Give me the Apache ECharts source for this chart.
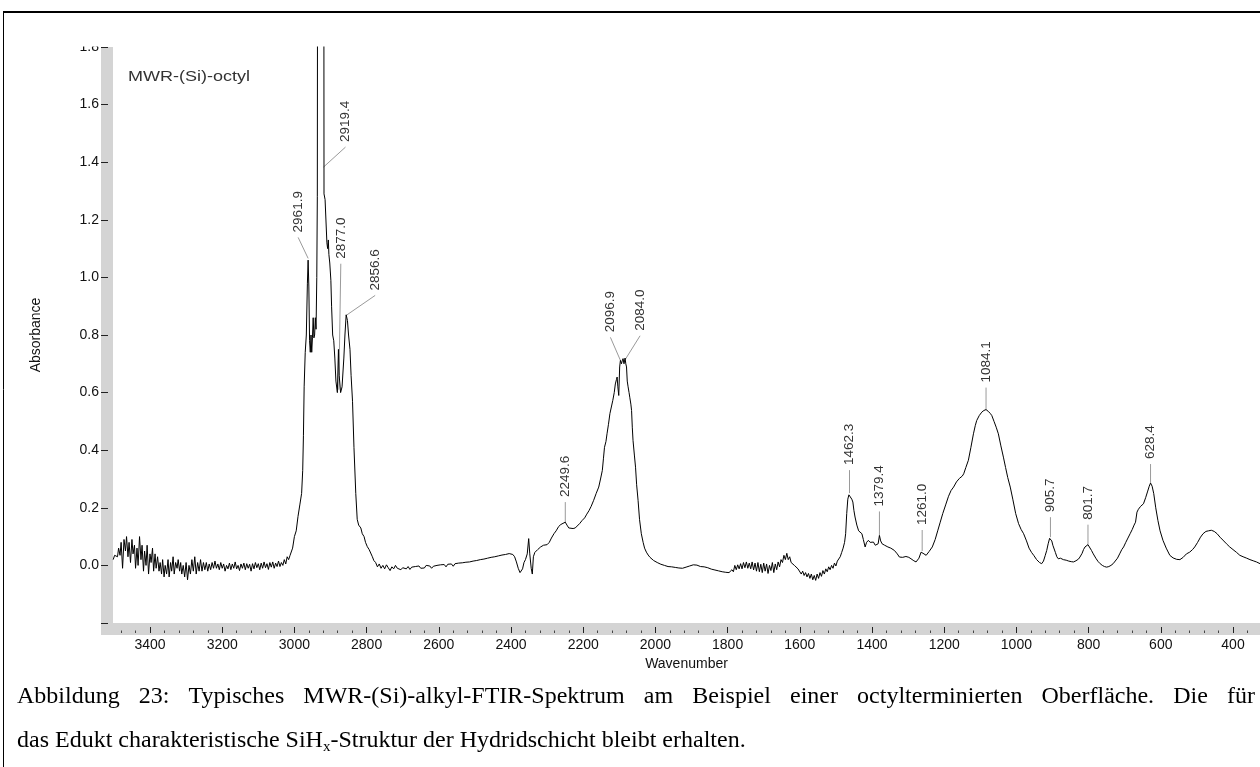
<!DOCTYPE html>
<html>
<head>
<meta charset="utf-8">
<script src="https://cdn.jsdelivr.net/npm/echarts@6/dist/echarts.min.js"></script>
<style>
  html, body { margin: 0; padding: 0; background: #fff; }
  #chart { width: 1260px; height: 767px; }
</style>
</head>
<body>
<div id="chart"></div>
<script>
// FTIR spectrum of an octyl-terminated MWR-(Si) surface: [wavenumber (cm-1), absorbance]
const spectrum = [
  [3502,0.02],[3498,0.035],[3495,0.04],[3490,0.03],[3487,0.06],[3483,0.035],[3480,0.08],[3476,-0.01],
  [3472,0.09],[3468,0.05],[3465,0.10],[3461,0.03],[3458,0.08],[3454,0.01],[3450,0.09],[3447,0.04],
  [3443,0.07],[3440,-0.01],[3436,0.06],[3433,0.00],[3429,0.10],[3425,0.02],[3422,0.07],[3418,-0.02],
  [3415,0.05],[3411,0.00],[3408,0.07],[3404,-0.03],[3400,0.04],[3397,0.01],[3393,0.06],[3390,-0.02],
  [3386,0.04],[3383,-0.01],[3379,0.03],[3375,-0.02],[3372,0.01],[3368,-0.03],[3365,0.02],[3361,-0.04],
  [3358,0.00],[3354,-0.03],[3350,0.02],[3347,-0.04],[3343,0.01],[3340,-0.02],[3336,0.03],[3333,-0.03],
  [3329,0.01],[3325,-0.01],[3322,0.02],[3318,-0.02],[3315,0.01],[3312,-0.03],[3308,0.00],[3304,-0.04],
  [3300,0.01],[3296,-0.05],[3292,0.00],[3288,-0.03],[3284,0.02],[3280,-0.02],[3276,0.03],[3272,-0.03],
  [3268,0.01],[3264,-0.02],[3260,0.02],[3256,-0.02],[3252,0.01],[3248,-0.015],[3244,0.01],[3240,-0.02],
  [3236,0.005],[3232,-0.015],[3228,0.01],[3224,-0.01],[3220,0.015],[3216,-0.01],[3212,0.005],[3208,-0.015],
  [3204,0.01],[3200,-0.01],[3196,0.005],[3192,-0.02],[3188,0.0],[3184,-0.012],[3180,0.008],[3176,-0.015],
  [3172,0.005],[3168,-0.01],[3164,0.012],[3160,-0.012],[3156,0.0],[3152,-0.018],[3148,0.005],[3144,-0.01],
  [3140,0.008],[3136,-0.015],[3132,0.006],[3128,-0.01],[3124,0.004],[3120,-0.02],[3116,0.006],[3112,-0.012],
  [3108,0.01],[3104,-0.008],[3100,0.006],[3096,-0.015],[3092,0.008],[3088,-0.01],[3084,0.012],[3080,-0.008],
  [3076,0.006],[3072,-0.014],[3068,0.01],[3064,-0.006],[3060,0.012],[3056,-0.01],[3052,0.008],[3048,-0.004],
  [3044,0.015],[3040,-0.004],[3036,0.01],[3032,0.0],[3028,0.02],[3024,0.005],[3020,0.03],[3016,0.02],
  [3012,0.035],[3008,0.03],[3005,0.06],[3000,0.10],[2995,0.12],[2990,0.17],[2985,0.21],[2980,0.25],
  [2977,0.33],[2975,0.45],[2973,0.62],[2970,0.74],[2967,0.80],[2964,0.98],[2962,1.06],[2960,0.97],
  [2958,0.78],[2956,0.74],[2954,0.80],[2952,0.74],[2950,0.79],[2948,0.86],[2946,0.79],[2944,0.80],
  [2942,0.86],[2940,0.82],[2938,1.00],[2936.5,1.28],[2936,1.95],[2927,2.5],[2918.3,1.95],[2918,1.29],
  [2915,1.27],[2913,1.27],[2910,1.12],[2908,1.10],[2906,1.13],[2904.5,1.08],[2902,1.05],[2899,0.99],
  [2897,0.90],[2894,0.80],[2891,0.78],[2888,0.72],[2885,0.64],[2881,0.60],[2878,0.75],[2876,0.66],
  [2872,0.60],[2868,0.62],[2863,0.72],[2860,0.80],[2856.6,0.87],[2853,0.85],[2850,0.80],[2846,0.75],
  [2843,0.66],[2839,0.57],[2835,0.41],[2830,0.25],[2826,0.16],[2822,0.14],[2816,0.13],[2812,0.11],
  [2807,0.10],[2803,0.08],[2798,0.065],[2793,0.055],[2789,0.05],[2784,0.03],[2780,0.017],[2775,0.01],
  [2770,-0.005],[2765,0.005],[2760,-0.01],[2755,0.0],[2750,-0.012],[2745,0.002],[2740,-0.008],[2735,-0.018],
  [2730,-0.005],[2725,-0.012],[2720,0.0],[2715,-0.01],[2710,-0.005],[2705,-0.015],[2700,-0.008],[2695,-0.002],
  [2690,-0.012],[2685,-0.004],[2680,-0.014],[2675,-0.006],[2670,-0.012],[2665,-0.004],[2660,-0.01],[2655,-0.002],
  [2650,-0.01],[2645,-0.004],[2640,-0.009],[2635,0.0],[2630,-0.006],[2625,-0.002],[2620,-0.01],[2615,-0.003],
  [2610,-0.008],[2605,0.0],[2600,-0.006],[2595,0.002],[2590,-0.004],[2585,0.003],[2580,-0.005],[2575,0.004],
  [2570,-0.002],[2565,0.005],[2560,-0.003],[2555,0.006],[2550,0.001],[2545,0.008],[2540,0.002],[2535,0.009],
  [2530,0.004],[2525,0.011],[2520,0.005],[2515,0.012],[2510,0.008],[2505,0.015],[2500,0.01],[2495,0.017],
  [2490,0.012],[2485,0.02],[2480,0.014],[2475,0.022],[2470,0.018],[2465,0.025],[2460,0.02],[2455,0.028],
  [2450,0.022],[2445,0.03],[2440,0.026],[2435,0.033],[2430,0.028],[2425,0.036],[2420,0.032],[2415,0.038],
  [2410,0.035],[2405,0.041],[2400,0.04],[2395,0.038],[2390,0.03],[2385,0.012],[2380,-0.01],[2375,-0.025],
  [2372,-0.03],[2368,-0.012],[2364,0.01],[2360,0.02],[2355,0.04],[2351,0.093],[2348,0.04],[2344,-0.01],
  [2341,-0.03],[2338,0.03],[2334,0.045],[2330,0.04],[2326,0.055],[2322,0.05],[2318,0.064],[2314,0.058],
  [2310,0.07],[2306,0.064],[2300,0.072],[2294,0.08],[2288,0.095],[2281,0.11],[2275,0.12],[2268,0.135],
  [2262,0.142],[2256,0.146],[2249.6,0.15],[2245,0.14],[2240,0.13],[2235,0.133],[2228,0.128],[2222,0.13],
  [2217,0.133],[2210,0.145],[2203,0.156],[2196,0.165],[2190,0.178],[2184,0.19],[2178,0.205],[2171,0.226],
  [2164,0.25],[2157,0.272],[2152,0.30],[2147,0.33],[2144,0.37],[2141,0.41],[2137,0.43],[2134,0.457],
  [2130,0.49],[2126,0.527],[2122,0.55],[2118,0.573],[2114,0.60],[2111,0.63],[2108,0.645],[2106,0.654],
  [2104,0.62],[2101.5,0.59],[2099,0.689],[2096.9,0.712],[2094,0.70],[2092,0.71],[2089.6,0.718],[2087,0.70],
  [2084,0.72],[2082,0.70],[2080,0.689],[2078,0.64],[2075.6,0.62],[2073,0.60],[2071,0.584],[2068,0.56],
  [2066,0.538],[2064,0.48],[2062,0.434],[2058,0.38],[2055,0.341],[2052,0.28],[2048,0.226],[2044,0.16],
  [2039,0.11],[2034,0.08],[2030,0.06],[2025,0.046],[2020,0.036],[2015,0.028],[2010,0.022],[2005,0.017],
  [2000,0.012],[1995,0.01],[1990,0.006],[1985,0.004],[1980,0.002],[1975,0.0],[1970,-0.003],[1965,-0.004],
  [1960,-0.006],[1955,-0.005],[1950,-0.008],[1945,-0.007],[1940,-0.006],[1935,-0.009],[1930,-0.008],[1925,-0.01],
  [1920,-0.008],[1915,-0.006],[1910,-0.004],[1905,-0.002],[1900,0.0],[1895,0.002],[1890,0.003],[1885,0.001],
  [1880,-0.002],[1875,-0.004],[1870,-0.006],[1865,-0.005],[1860,-0.006],[1855,-0.008],[1850,-0.01],[1845,-0.013],
  [1840,-0.014],[1835,-0.016],[1830,-0.015],[1825,-0.019],[1820,-0.02],[1815,-0.022],[1810,-0.025],[1805,-0.024],
  [1800,-0.027],[1796,-0.025],[1792,-0.03],[1788,-0.015],[1784,-0.022],[1780,0.0],[1776,-0.015],[1772,0.002],
  [1768,-0.012],[1764,0.006],[1760,-0.012],[1756,0.01],[1752,-0.008],[1748,0.012],[1744,-0.01],[1740,0.008],
  [1736,-0.012],[1732,0.012],[1728,-0.016],[1724,0.008],[1720,-0.02],[1716,0.01],[1712,-0.022],[1708,0.004],
  [1704,-0.025],[1700,0.008],[1696,-0.02],[1692,0.005],[1688,-0.028],[1684,0.0],[1680,-0.018],[1676,0.01],
  [1672,-0.025],[1668,0.005],[1664,-0.015],[1660,0.012],[1656,-0.005],[1652,0.02],[1648,0.01],[1644,0.035],
  [1640,0.02],[1636,0.042],[1632,0.02],[1628,0.03],[1624,0.01],[1620,0.016],[1615,0.0],[1610,0.006],
  [1605,-0.012],[1600,-0.015],[1596,-0.03],[1592,-0.02],[1588,-0.035],[1584,-0.025],[1580,-0.04],[1576,-0.028],
  [1572,-0.045],[1568,-0.03],[1564,-0.05],[1560,-0.035],[1556,-0.052],[1552,-0.03],[1548,-0.045],[1544,-0.025],
  [1540,-0.038],[1536,-0.018],[1532,-0.03],[1528,-0.012],[1524,-0.022],[1520,-0.005],[1516,-0.015],[1512,0.0],
  [1508,-0.01],[1504,0.008],[1500,-0.002],[1496,0.015],[1492,0.01],[1488,0.03],[1484,0.045],[1480,0.06],
  [1476,0.08],[1473,0.11],[1470,0.18],[1467,0.23],[1464,0.245],[1462.3,0.251],[1459,0.24],[1456,0.23],
  [1453,0.22],[1450,0.19],[1447,0.168],[1442,0.14],[1437,0.12],[1432,0.115],[1428,0.11],[1424,0.09],
  [1419,0.064],[1415,0.08],[1410,0.087],[1405,0.08],[1400,0.085],[1396,0.081],[1391,0.07],[1387,0.064],
  [1383,0.075],[1379.4,0.104],[1376,0.085],[1372,0.075],[1365,0.07],[1356,0.064],[1348,0.06],[1338,0.052],
  [1330,0.04],[1324,0.029],[1315,0.028],[1306,0.031],[1298,0.028],[1292,0.023],[1284,0.016],[1278,0.012],
  [1270,0.025],[1264,0.046],[1261,0.05],[1256,0.04],[1250,0.035],[1242,0.048],[1233,0.064],[1225,0.09],
  [1218,0.12],[1211,0.15],[1204,0.18],[1196,0.21],[1188,0.24],[1181,0.26],[1174,0.272],[1166,0.29],
  [1158,0.302],[1150,0.31],[1146,0.318],[1140,0.34],[1133,0.365],[1126,0.41],[1119,0.457],[1114,0.485],
  [1110,0.503],[1103,0.52],[1096,0.532],[1090,0.538],[1084.1,0.541],[1078,0.535],[1072,0.527],[1068,0.52],
  [1062,0.50],[1056,0.48],[1050,0.457],[1043,0.415],[1036,0.376],[1030,0.34],[1024,0.305],[1017,0.272],
  [1010,0.23],[1002,0.18],[994,0.145],[987,0.125],[980,0.11],[972,0.085],[965,0.06],[958,0.045],
  [952,0.035],[944,0.02],[936,0.01],[930,0.006],[925,0.015],[920,0.035],[916,0.052],[912,0.075],
  [908,0.094],[905.7,0.098],[902,0.085],[899,0.07],[896,0.064],[892,0.045],[888,0.03],[884,0.023],
  [878,0.025],[870,0.02],[862,0.018],[855,0.015],[848,0.013],[842,0.012],[835,0.016],[828,0.022],
  [824,0.029],[818,0.042],[814,0.055],[810,0.064],[805,0.07],[801.7,0.072],[797,0.066],[792,0.052],
  [787,0.04],[780,0.025],[774,0.014],[768,0.006],[762,0.0],[756,-0.004],[750,-0.006],[744,-0.004],
  [738,0.0],[732,0.006],[727,0.012],[720,0.025],[714,0.04],[708,0.055],[703,0.064],[697,0.08],
  [691,0.095],[685,0.11],[679,0.125],[674,0.14],[670,0.15],[666,0.185],[662,0.195],[656,0.205],
  [648,0.214],[642,0.235],[637,0.255],[632,0.275],[628.4,0.286],[624,0.275],[619.5,0.249],[614,0.2],
  [608,0.156],[602,0.12],[594,0.087],[585,0.06],[575,0.035],[566,0.026],[556,0.021],[547,0.02],
  [538,0.028],[529,0.04],[520,0.046],[512,0.055],[506,0.064],[498,0.08],[490,0.098],[483,0.11],
  [475,0.118],[468,0.12],[460,0.122],[452,0.118],[444,0.11],[436,0.098],[428,0.088],[418,0.075],
  [409,0.064],[400,0.055],[390,0.045],[381,0.035],[372,0.03],[362,0.025],[353,0.02],[344,0.016],
  [335,0.012],[325,0.006]
];

// Labelled peaks: [wavenumber, absorbance at the marked point]
const peaks = [
  [2961.9,1.066],[2919.4,1.383],[2877.0,0.61],[2856.6,0.868],[2249.6,0.147],[2096.9,0.712],[2084.0,0.714],
  [1462.3,0.251],[1379.4,0.104],[1261.0,0.05],[1084.1,0.541],[905.7,0.098],[801.7,0.072],[628.4,0.286]
];
// Leader line end relative to the marked point, in pixels
const peakLeaderOffsets = [
  [-10,-21],[22,-20],[2,-126],[29,-20],[0,-21],[-10,-23],[15,-24],
  [0,-23],[0,-24],[0,-21],[0,-22],[0,-20],[0,-20],[0,-19]
];

const xTickLabels = [3400,3200,3000,2800,2600,2400,2200,2000,1800,1600,1400,1200,1000,800,600,400];
const xMinorTicks = [];
for (let v = 360; v <= 3480; v += 40) if (v % 200 !== 0) xMinorTicks.push(v);

const captionLine1 = 'Abbildung 23: Typisches MWR-(Si)-alkyl-FTIR-Spektrum am Beispiel einer octylterminierten Oberfläche. Die für';
const captionLine2 = ['das Edukt charakteristische SiH', 'x', '-Struktur der Hydridschicht bleibt erhalten.'];

const sansFont = '"Liberation Sans", Arial, sans-serif';
const serifFont = '"Liberation Serif", "Times New Roman", serif';

// justified first caption line: words spread over the full text width
const captionLeft = 17, captionRight = 1255, captionSize = 24;
const measureCtx = document.createElement('canvas').getContext('2d');
measureCtx.font = captionSize + 'px ' + serifFont;
const words = captionLine1.split(' ');
const wordWidths = words.map(w => measureCtx.measureText(w).width);
const gap = (captionRight - captionLeft - wordWidths.reduce((a, b) => a + b, 0)) / (words.length - 1);
const captionWords = [];
let cx = captionLeft;
words.forEach((w, i) => {
  captionWords.push({
    type: 'text', z: 100, x: cx, y: 697,
    style: { text: w, fill: '#000', fontSize: captionSize, fontFamily: serifFont, verticalAlign: 'middle' }
  });
  cx += wordWidths[i] + gap;
});

const chart = echarts.init(document.getElementById('chart'), null, { renderer: 'canvas' });

const xBase = {
  type: 'value', min: 325.2, max: 3502.5, inverse: true, position: 'bottom', offset: 10,
  axisLine: { show: false, onZero: false }, splitLine: { show: false }
};

chart.setOption({
  animation: false,
  backgroundColor: '#fff',
  grid: { left: 113, right: 0, top: 47, bottom: 144, containLabel: false, outerBoundsMode: 'none' },
  xAxis: [
    Object.assign({}, xBase, {
      axisTick: { show: true, inside: true, length: 6, customValues: xTickLabels, lineStyle: { color: '#222', width: 1 } },
      axisLabel: { customValues: xTickLabels, margin: 5, fontSize: 14, color: '#111', fontFamily: sansFont, formatter: v => String(v) },
      name: 'Wavenumber', nameLocation: 'middle', nameGap: 17,
      nameTextStyle: { fontSize: 14, color: '#111', fontFamily: sansFont }
    }),
    Object.assign({}, xBase, {
      axisTick: { show: true, inside: true, length: 2.5, customValues: xMinorTicks, lineStyle: { color: '#444', width: 1 } },
      axisLabel: { show: false }
    })
  ],
  yAxis: {
    type: 'value', min: -0.2, max: 1.8, interval: 0.2, position: 'left', offset: 12,
    axisLine: { show: false, onZero: false }, splitLine: { show: false },
    axisTick: { show: true, inside: true, length: 7, lineStyle: { color: '#222', width: 1 } },
    axisLabel: {
      margin: 2, fontSize: 14, color: '#111', fontFamily: sansFont,
      formatter: v => (v < -0.1 ? '' : v.toFixed(1))
    },
    name: 'Absorbance', nameLocation: 'middle', nameGap: 58, nameRotate: 90,
    nameTextStyle: { fontSize: 14, color: '#111', fontFamily: sansFont }
  },
  series: [
    {
      type: 'line', name: 'MWR-(Si)-octyl', data: spectrum, xAxisIndex: 0,
      showSymbol: false, symbol: 'none', clip: true, sampling: false,
      lineStyle: { color: '#000', width: 1 }
    },
    {
      type: 'custom', xAxisIndex: 0, data: peaks, encode: { x: 0, y: 1 },
      renderItem: function (params, api) {
        const i = params.dataIndex;
        const wn = api.value(0);
        const p = api.coord([wn, api.value(1)]);
        const off = peakLeaderOffsets[i];
        const ex = p[0] + off[0], ey = p[1] + off[1];
        return {
          type: 'group',
          children: [
            { type: 'line', shape: { x1: p[0], y1: p[1], x2: ex, y2: ey }, style: { stroke: '#9a9a9a', lineWidth: 1 } },
            {
              type: 'text', x: ex, y: ey - 5, rotation: Math.PI / 2,
              style: { text: wn.toFixed(1), align: 'left', verticalAlign: 'middle', fill: '#333', fontSize: 13.5, fontFamily: sansFont }
            }
          ]
        };
      }
    }
  ],
  graphic: [
    // grey axis bands
    { type: 'rect', z: -10, shape: { x: 101, y: 47, width: 12, height: 588 }, style: { fill: '#d4d4d4' } },
    { type: 'rect', z: -10, shape: { x: 101, y: 623, width: 1159, height: 12 }, style: { fill: '#d4d4d4' } },
    // top tick label is cut by the upper edge of the plot
    { type: 'rect', z: 100, shape: { x: 40, y: 14, width: 61, height: 32.5 }, style: { fill: '#fff' } },
    // figure frame
    { type: 'line', z: 100, shape: { x1: 3, y1: 12, x2: 1260, y2: 12 }, style: { stroke: '#000', lineWidth: 2 } },
    { type: 'line', z: 100, shape: { x1: 3.5, y1: 12, x2: 3.5, y2: 767 }, style: { stroke: '#000', lineWidth: 1 } },
    // sample name
    { type: 'text', z: 100, x: 128, y: 77, scaleX: 1.2, style: { text: 'MWR-(Si)-octyl', fill: '#333', fontSize: 15, fontFamily: sansFont, verticalAlign: 'middle' } },
    // caption
    ...captionWords,
    {
      type: 'text', z: 100, x: captionLeft, y: 741,
      style: {
        text: '{a|' + captionLine2[0] + '}{s|' + captionLine2[1] + '}{a|' + captionLine2[2] + '}',
        verticalAlign: 'middle',
        rich: {
          a: { fontSize: captionSize, fontFamily: serifFont, fill: '#000', lineHeight: 28 },
          s: { fontSize: 15, fontFamily: serifFont, fill: '#000', lineHeight: 28, verticalAlign: 'bottom' }
        }
      }
    }
  ]
});
</script>
</body>
</html>
